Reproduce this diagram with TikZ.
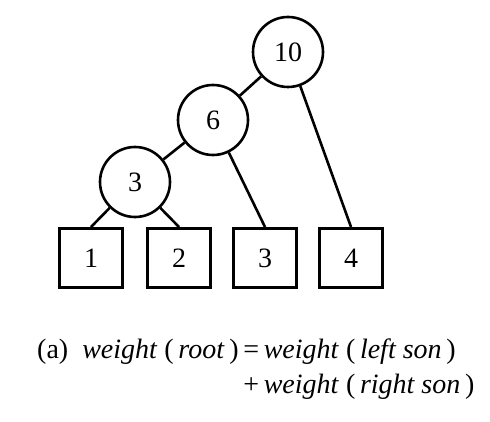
\documentclass[tikz,border=0pt]{standalone}
\usepackage{fontspec}
\setmainfont{Liberation Serif}
\begin{document}
\begin{tikzpicture}[x=1pt,y=-1pt,
  inner/.style={circle,draw,line width=2.6pt,minimum size=70pt,inner sep=0pt,font=\fontsize{28}{30}\selectfont},
  leaf/.style={rectangle,draw,line width=3pt,minimum width=63pt,minimum height=59pt,inner sep=0pt,font=\fontsize{28}{30}\selectfont},
  edge/.style={line width=2.6pt},
  captext/.style={anchor=base west,inner sep=0pt,font=\fontsize{28}{30}\selectfont}]
\useasboundingbox (0,0) rectangle (490,422);
\node[inner] (r10) at (288,52) {10};
\node[inner] (n6) at (213,120) {6};
\node[inner] (n3) at (135,182) {3};
\node[leaf] (s1) at (91,258) {1};
\node[leaf] (s2) at (179,258) {2};
\node[leaf] (s3) at (265,258) {3};
\node[leaf] (s4) at (351,258) {4};
\draw[edge] (r10) -- (n6);
\draw[edge] (r10) -- (s4.north);
\draw[edge] (n6) -- (n3);
\draw[edge] (n6) -- (s3.north);
\draw[edge] (n3) -- (s1.north);
\draw[edge] (n3) -- (s2.north);
\node[captext] (l1) at (37,358) {(a)\hspace{0.5em}\textit{weight} (\,\textit{root}\,)\,=\,\textit{weight} (\,\textit{left son}\,)};
\node[captext] (l2) at (37,393) {\phantom{(a)\hspace{0.5em}\textit{weight} (\,\textit{root}\,)\,}+\,\textit{weight} (\,\textit{right son}\,)};
\end{tikzpicture}
\end{document}
